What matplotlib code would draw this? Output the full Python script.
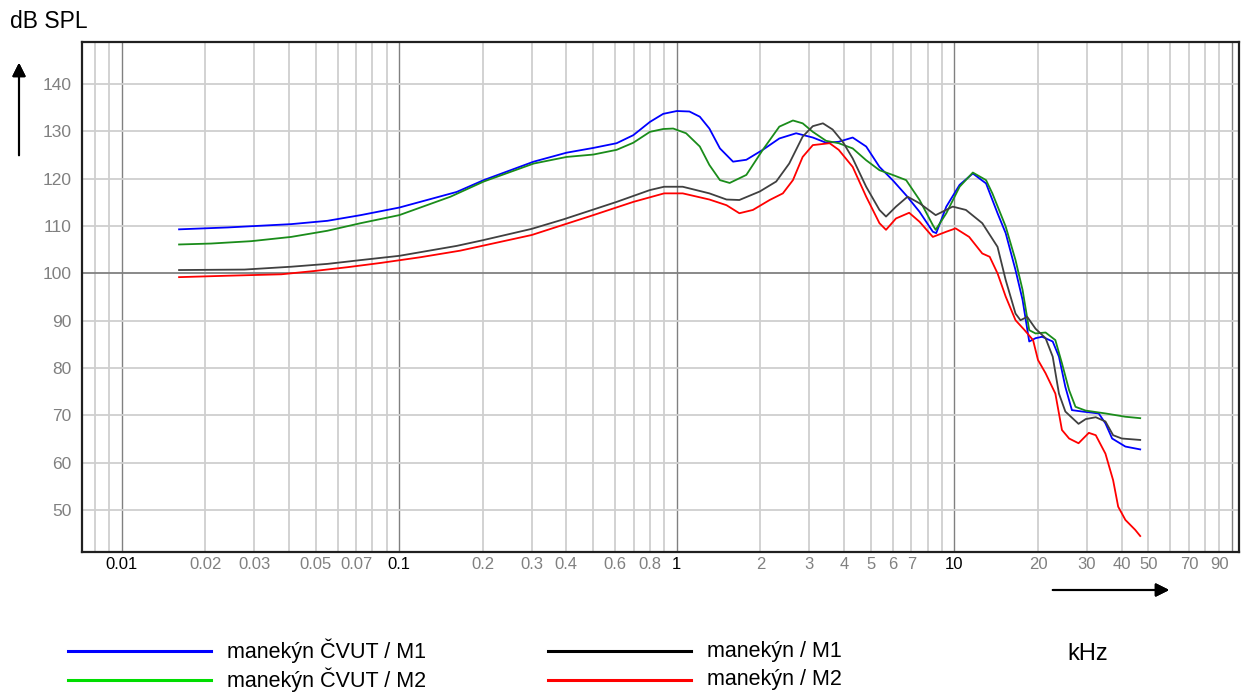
import matplotlib.pyplot as plt
from matplotlib.lines import Line2D
from matplotlib.ticker import FixedLocator, NullFormatter

plt.rcParams['font.family'] = ['Liberation Sans', 'DejaVu Sans']

# frequency [kHz] / level [dB SPL]
cvut_m1_f = [0.0161, 0.0241, 0.0408, 0.0551, 0.0726, 0.1, 0.161, 0.2015, 0.305, 0.401, 0.5, 0.607,
             0.697, 0.8, 0.893, 1.0, 1.11, 1.21, 1.31, 1.43, 1.594, 1.78, 2.04, 2.34, 2.69, 3.09,
             3.45, 3.83, 4.30, 4.81, 5.37, 5.99, 6.7, 7.49, 8.36, 8.6, 9.35, 10.44, 11.65, 13.0,
             14.3, 15.3, 16.6, 17.6, 18.6, 19.6, 20.7, 22.6, 23.8, 25.1, 26.5, 28.9, 33.1, 35.0,
             37.0, 41.3, 46.7]
cvut_m1_db = [109.3, 109.7, 110.4, 111.1, 112.3, 113.9, 117.2, 119.7, 123.6, 125.5, 126.5, 127.5,
              129.2, 132.0, 133.7, 134.3, 134.2, 133.1, 130.6, 126.4, 123.6, 124.0, 126.1, 128.5,
              129.6, 128.7, 127.6, 127.8, 128.7, 126.8, 122.5, 119.7, 116.5, 113.0, 108.8, 108.5,
              114.1, 118.7, 121.1, 119.0, 112.7, 108.5, 100.7, 94.4, 85.6, 86.3, 86.6, 85.6, 82.4,
              76.0, 71.1, 70.8, 70.4, 68.3, 65.1, 63.4, 62.8]

cvut_m2_f = [0.0161, 0.0210, 0.0293, 0.0408, 0.0551, 0.0726, 0.1, 0.153, 0.2015, 0.305, 0.401, 0.5,
             0.607, 0.697, 0.8, 0.893, 0.97, 1.08, 1.21, 1.31, 1.43, 1.55, 1.78, 2.04, 2.34, 2.62,
             2.84, 3.09, 3.45, 3.83, 4.30, 4.81, 5.37, 5.99, 6.7, 7.49, 8.36, 8.56, 9.35, 10.44,
             11.65, 13.0, 13.7, 15.3, 16.6, 17.6, 18.6, 19.6, 21.3, 23.1, 24.4, 25.9, 27.3, 29.7,
             35.0, 41.3, 46.7]
cvut_m2_db = [106.1, 106.3, 106.8, 107.7, 109.0, 110.6, 112.3, 116.2, 119.4, 123.2, 124.6, 125.1,
              126.1, 127.6, 129.9, 130.5, 130.6, 129.6, 126.8, 122.9, 119.7, 119.1, 120.8, 126.1,
              131.0, 132.3, 131.7, 129.9, 128.0, 127.5, 126.4, 123.9, 121.8, 120.8, 119.7, 115.5,
              110.2, 109.2, 112.7, 118.3, 121.3, 119.7, 116.9, 109.9, 102.8, 96.5, 88.0, 87.3, 87.5,
              85.9, 81.0, 75.3, 71.8, 71.0, 70.4, 69.7, 69.4]

man_m1_f = [0.0161, 0.0277, 0.0408, 0.0551, 0.0726, 0.1, 0.161, 0.2, 0.3, 0.39, 0.607, 0.8, 0.9,
            1.05, 1.31, 1.51, 1.68, 1.99, 2.28, 2.54, 2.84, 3.09, 3.36, 3.64, 3.96, 4.30, 4.81,
            5.37, 5.67, 6.16, 6.78, 7.49, 8.56, 9.86, 11.0, 12.6, 14.3, 15.3, 16.6, 17.3, 18.3,
            19.6, 21.3, 22.6, 23.8, 25.1, 28.0, 29.7, 32.3, 35.0, 37.3, 40.1, 46.7]
man_m1_db = [100.7, 100.8, 101.4, 102.0, 102.8, 103.7, 105.8, 107.0, 109.4, 111.4, 115.1, 117.6,
             118.3, 118.3, 116.9, 115.6, 115.5, 117.3, 119.4, 123.2, 128.9, 131.1, 131.7, 130.4,
             127.8, 124.3, 118.3, 113.4, 112.0, 114.1, 116.2, 114.8, 112.3, 114.1, 113.4, 110.6,
             105.6, 98.6, 91.5, 90.1, 90.8, 88.3, 86.3, 82.4, 74.6, 70.8, 68.2, 69.2, 69.6, 68.7,
             65.8, 65.1, 64.8]

man_m2_f = [0.0161, 0.0241, 0.0376, 0.0495, 0.0651, 0.0857, 0.119, 0.166, 0.3, 0.5, 0.697, 0.9,
            1.05, 1.31, 1.51, 1.68, 1.88, 2.16, 2.41, 2.62, 2.84, 3.09, 3.55, 3.83, 4.30, 4.81,
            5.37, 5.67, 6.16, 6.87, 7.49, 8.36, 9.35, 10.1, 11.3, 12.6, 13.4, 14.3, 15.3, 16.6,
            17.9, 19.2, 20.0, 21.3, 23.1, 24.4, 25.9, 28.0, 30.5, 32.3, 35.0, 37.3, 38.9, 41.3,
            44.8, 46.7]
man_m2_db = [99.2, 99.5, 99.8, 100.5, 101.3, 102.2, 103.4, 104.8, 108.1, 112.3, 115.1, 116.9, 116.9,
             115.6, 114.4, 112.7, 113.4, 115.5, 116.9, 119.7, 124.6, 127.1, 127.5, 126.1, 122.5,
             116.2, 110.6, 109.2, 111.6, 112.8, 110.9, 107.7, 108.8, 109.5, 107.7, 104.2, 103.5,
             100.0, 95.1, 90.1, 88.0, 85.9, 81.7, 78.9, 74.6, 66.9, 65.1, 64.1, 66.3, 65.8, 61.9,
             56.3, 50.7, 47.9, 45.8, 44.5]

series = [
    (cvut_m1_f, cvut_m1_db, '#0000ff'),
    (cvut_m2_f, cvut_m2_db, '#1a8c1a'),
    (man_m1_f, man_m1_db, '#404040'),
    (man_m2_f, man_m2_db, '#ff0000'),
]
legend_labels = ['manekýn ČVUT / M1', 'manekýn ČVUT / M2', 'manekýn / M1', 'manekýn / M2']
legend_colors = ['#0000ff', '#00dd00', '#000000', '#ff0000']

decades = [0.01, 0.1, 1, 10, 100]
minor_grid = [m * d for d in [0.001, 0.01, 0.1, 1, 10] for m in range(2, 10)]
xlabels_gray = [0.02, 0.03, 0.05, 0.07, 0.2, 0.3, 0.4, 0.6, 0.8, 2, 3, 4, 5, 6, 7, 20, 30, 40, 50, 70, 90]
xlabels_black = [0.01, 0.1, 1, 10]
yticks = [50, 60, 70, 80, 90, 100, 110, 120, 130, 140]

fig = plt.figure(figsize=(12.45, 6.93), dpi=100)
ax = fig.add_axes([0.0655, 0.204, 0.9297, 0.7355])
ax.set_xscale('log')
ax.set_xlim(0.00717, 106)
ax.set_ylim(41.2, 148.9)

# grid
for f in minor_grid:
    ax.axvline(f, color='#cfcfcf', lw=1.3, zorder=0)
for f in decades:
    ax.axvline(f, color='#808080', lw=1.0, zorder=0)
for y in yticks:
    ax.axhline(y, color='#808080' if y == 100 else '#cfcfcf', lw=1.3, zorder=0)

for f, db, c in series:
    ax.plot(f, db, color=c, lw=1.3, zorder=3)

ax.xaxis.set_major_locator(FixedLocator([]))
ax.xaxis.set_minor_locator(FixedLocator([]))
ax.xaxis.set_minor_formatter(NullFormatter())
ax.set_yticks(yticks)
ax.set_yticklabels([str(y) for y in yticks])
ax.tick_params(axis='y', length=0, pad=7, labelsize=12.5, labelcolor='#808080')

# x tick labels (decades black, rest gray)
for v in xlabels_gray + xlabels_black:
    ax.text(v, -0.011, f'{v:g}', transform=ax.get_xaxis_transform(), ha='center', va='top',
            fontsize=12, color='#000000' if v in xlabels_black else '#808080')

for sp in ax.spines.values():
    sp.set_linewidth(1.6)
    sp.set_color('#202020')

# axis annotations
fig.text(10 / 1245, 1 - 22 / 693, 'dB SPL', fontsize=16.5, va='center', ha='left')
fig.text(1088 / 1245, 1 - 654 / 693, 'kHz', fontsize=17, va='center', ha='center')
fig.add_artist(plt.annotate('', xy=(19 / 1245, 1 - 60 / 693), xytext=(19 / 1245, 1 - 158 / 693),
                            xycoords='figure fraction',
                            arrowprops=dict(arrowstyle='-|>', color='black', lw=1.5, mutation_scale=20)))
fig.add_artist(plt.annotate('', xy=(1172 / 1245, 1 - 590 / 693), xytext=(1050 / 1245, 1 - 590 / 693),
                            xycoords='figure fraction',
                            arrowprops=dict(arrowstyle='-|>', color='black', lw=1.5, mutation_scale=20)))

# legend drawn as two columns of two rows
col_x = [68, 548]
row_y = [651, 680]
for i, (lab, c) in enumerate(zip(legend_labels, legend_colors)):
    x0 = col_x[i // 2]
    y0 = 1 - row_y[i % 2] / 693
    fig.add_artist(Line2D([x0 / 1245, (x0 + 143) / 1245], [y0, y0], color=c, lw=2.2,
                          transform=fig.transFigure))
    fig.text((x0 + 159) / 1245, y0, lab, fontsize=15.5, va='center', ha='left')

fig.savefig('out.png', dpi=100)
